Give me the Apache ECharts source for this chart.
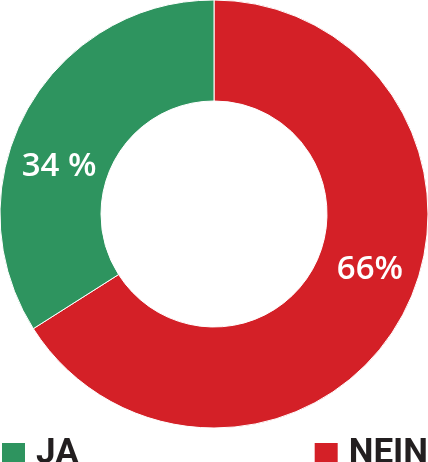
<!DOCTYPE html>
<html><head><meta charset="utf-8">
<script src="https://cdn.jsdelivr.net/npm/echarts@6/dist/echarts.min.js"></script>
<style>html,body{margin:0;padding:0;background:#fff}#c{width:428px;height:462px}</style>
</head><body><div id="c"></div>
<script>
const categories = ['NEIN', 'JA'];
const values = [66, 34];
const labelTexts = ['66%', '34 %'];
const colors = ['#d42027', '#2e945f'];

const chart = echarts.init(document.getElementById('c'));
const labelShift = [[10, -25], [-9, 33]];
const legendText = {fontFamily: 'Roboto', fontWeight: 'bold', fontSize: 35, lineHeight: 18, color: '#231f20', padding: [5, 0, 0, 6]};
const legendItem = {borderWidth: 0};
chart.setOption({
  animation: false,
  color: colors,
  legend: [
    {data: ['JA'], left: 2, top: 437, padding: 0, itemWidth: 23, itemHeight: 23, itemGap: 10, icon: 'rect', itemStyle: legendItem, textStyle: legendText},
    {data: ['NEIN'], right: 0, top: 437, padding: 0, itemWidth: 23, itemHeight: 23, itemGap: 10, icon: 'rect', itemStyle: legendItem, textStyle: legendText}
  ],
  series: [{
    type: 'pie',
    center: [214, 214],
    radius: [113, 214],
    startAngle: 90,
    clockwise: true,
    silent: true,
    itemStyle: {borderColor: '#fff', borderWidth: 1},
    label: {
      show: true, position: 'inside',
      formatter: p => labelTexts[p.dataIndex],
      fontFamily: 'Open Sans', fontWeight: 600, fontSize: 33, color: '#fff'
    },
    labelLine: {show: false},
    labelLayout: p => ({dx: labelShift[p.dataIndex][0], dy: labelShift[p.dataIndex][1]}),
    data: categories.map((c, i) => ({name: c, value: values[i]}))
  }]
});
</script></body></html>
